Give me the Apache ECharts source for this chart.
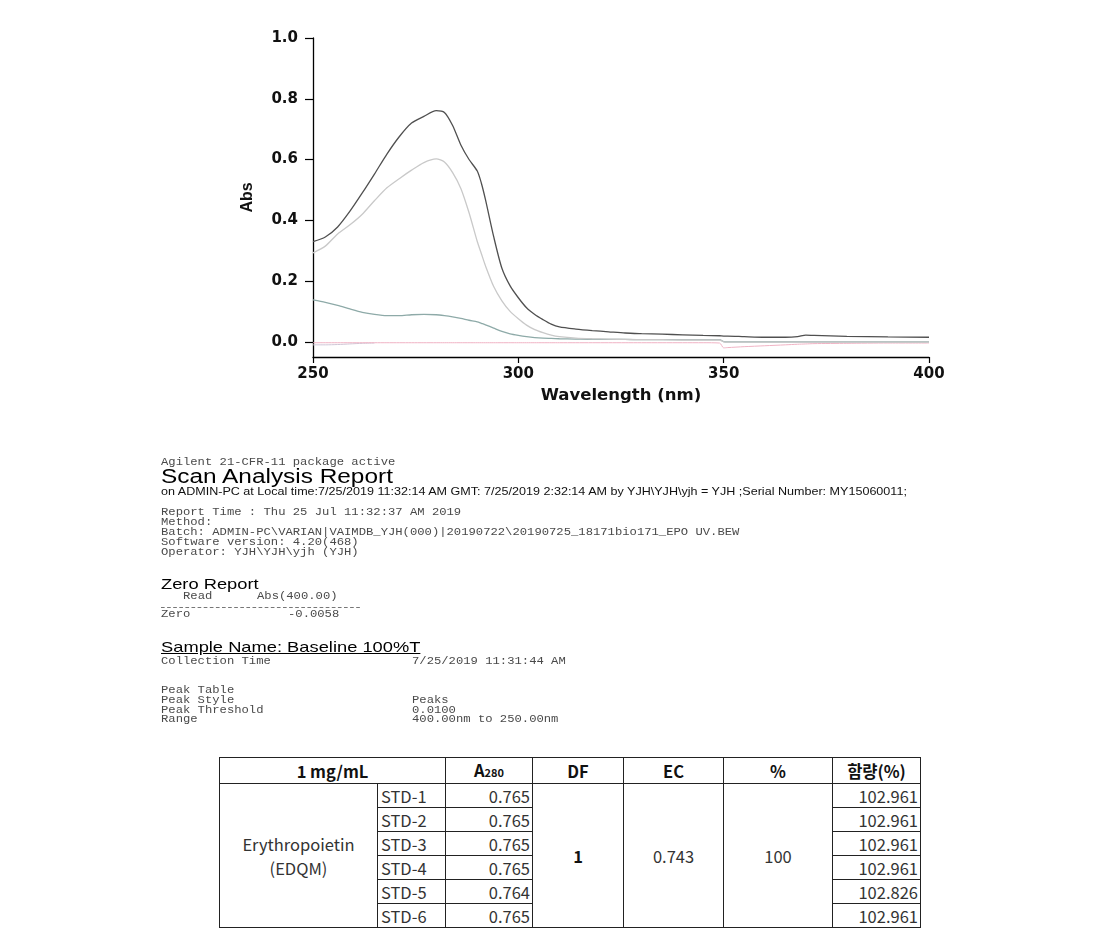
<!DOCTYPE html>
<html>
<head>
<meta charset="utf-8">
<script src="https://cdn.jsdelivr.net/npm/echarts@6/dist/echarts.min.js"></script>
<style>
html,body{margin:0;padding:0;background:#fff;width:1096px;height:931px;overflow:hidden;position:relative;}
#chart{position:absolute;left:0;top:0;width:1096px;height:420px;}
#report{position:absolute;left:161px;top:0;width:720px;height:740px;transform:scaleX(1.22);transform-origin:0 0;}
.t{position:absolute;white-space:pre;}
.mono{font-family:"Liberation Mono","DejaVu Sans Mono",monospace;font-size:10px;line-height:10px;color:#4a4a4a;}
.sans{font-family:"Liberation Sans",Arial,sans-serif;color:#111;}
#tbl{position:absolute;left:219px;top:757px;border-collapse:collapse;table-layout:fixed;
  font-family:"Noto Sans CJK KR","Noto Sans",sans-serif;font-size:16.5px;color:#333;}
#tbl td{border:1px solid #222;padding:0;height:23px;line-height:20px;overflow:hidden;white-space:nowrap;}
#tbl tr.h td{height:25px;font-weight:bold;color:#111;text-align:center;}
#tbl td.l{text-align:left;padding-left:3px;}
#tbl td.r{text-align:right;padding-right:2px;}
#tbl td.c{text-align:center;}
sub{font-size:11px;vertical-align:baseline;}
</style>
</head>
<body>
<div id="chart"></div>
<div id="report"></div>
<table id="tbl"></table>
<script>
// ---------------- chart data ----------------
const wavelength = [250,253,256,259,262,265,268,271,274,277,280,282,284,286,288,290,291,292,294,296,298,300,302,304,306,308,310,314,318,322,326,330,335,340,345,349,350,351,355,360,365,368,370,372,380,390,400];
const absSampleA = [0.330,0.345,0.378,0.430,0.490,0.553,0.618,0.675,0.720,0.742,0.761,0.755,0.712,0.648,0.600,0.562,0.522,0.468,0.346,0.242,0.184,0.145,0.112,0.090,0.073,0.058,0.049,0.042,0.037,0.033,0.029,0.027,0.025,0.023,0.021,0.020,0.019,0.019,0.017,0.015,0.015,0.017,0.022,0.021,0.018,0.016,0.015];
const absSampleB = [0.293,0.315,0.355,0.385,0.420,0.465,0.507,0.537,0.565,0.590,0.602,0.592,0.557,0.505,0.425,0.330,0.290,0.250,0.182,0.135,0.100,0.076,0.055,0.040,0.030,0.022,0.017,0.012,0.010,0.009,0.008,0.007,0.007,0.006,0.006,0.006,0.000,-0.001,-0.001,-0.001,-0.001,-0.001,-0.001,-0.001,-0.001,-0.001,-0.001];
const absSampleC = [0.138,0.130,0.120,0.108,0.097,0.090,0.086,0.086,0.089,0.090,0.089,0.086,0.082,0.077,0.071,0.066,0.061,0.056,0.045,0.034,0.026,0.021,0.017,0.014,0.012,0.011,0.010,0.009,0.008,0.008,0.008,0.007,0.007,0.007,0.007,0.007,0.001,0.000,0.000,0.000,0.000,0.000,0.000,0.000,0.000,0.000,0.000];
const absBlank = [-0.003,-0.003,-0.003,-0.003,-0.003,-0.003,-0.003,-0.003,-0.003,-0.003,-0.003,-0.003,-0.003,-0.003,-0.003,-0.003,-0.003,-0.003,-0.003,-0.003,-0.003,-0.003,-0.003,-0.003,-0.003,-0.003,-0.003,-0.003,-0.003,-0.003,-0.003,-0.003,-0.003,-0.003,-0.003,-0.004,-0.020,-0.019,-0.016,-0.013,-0.010,-0.008,-0.007,-0.006,-0.005,-0.004,-0.004];
const absBaseline = [-0.010,-0.010,-0.009,-0.007,-0.005,-0.004,null,null,null,null,null,null,null,null,null,null,null,null,null,null,null,null,null,null,null,null,null,null,null,null,null,null,null,null,null,null,null,null,null,null,null,null,null,null,null,null,null];
const yTicks = [0, 0.2, 0.4, 0.6, 0.8, 1.0];
const xTicks = [250, 300, 350, 400];

// ---------------- report text ----------------
const reportHeader = ['Agilent 21-CFR-11 package active', 'Scan Analysis Report',
  'on ADMIN-PC at Local time:7/25/2019 11:32:14 AM GMT: 7/25/2019 2:32:14 AM by YJH\\YJH\\yjh = YJH ;Serial Number: MY15060011;'];
const reportInfo = ['Report Time : Thu 25 Jul 11:32:37 AM 2019', 'Method:',
  'Batch: ADMIN-PC\\VARIAN|VAIMDB_YJH(000)|20190722\\20190725_18171bio171_EPO UV.BEW',
  'Software version: 4.20(468)', 'Operator: YJH\\YJH\\yjh (YJH)'];
const zeroTitle = 'Zero Report';
const zeroHead = ['Read', 'Abs(400.00)'];
const zeroRow = ['Zero', '-0.0058'];
const sampleTitle = 'Sample Name: Baseline 100%T';
const collection = ['Collection Time', '7/25/2019 11:31:44 AM'];
const peakLabels = ['Peak Table', 'Peak Style', 'Peak Threshold', 'Range'];
const peakValues = ['', 'Peaks', '0.0100', '400.00nm to 250.00nm'];

// ---------------- table data ----------------
const tableHeader = ['1 mg/mL', 'A', 'DF', 'EC', '%', '함량(%)'];
const a280Sub = '280';
const sampleName = ['Erythropoietin', '(EDQM)'];
const stdLabels = ['STD-1', 'STD-2', 'STD-3', 'STD-4', 'STD-5', 'STD-6'];
const a280Values = [0.765, 0.765, 0.765, 0.765, 0.764, 0.765];
const dfValue = 1;
const ecValue = 0.743;
const pctValue = 100;
const contentValues = [102.961, 102.961, 102.961, 102.961, 102.826, 102.961];

// ---------------- chart ----------------
function toPairs(arr){
  const out = [];
  wavelength.forEach((w, i) => { if (arr[i] !== null) out.push([w, arr[i]]); });
  return out;
}
const tickFont = {color:'#111', fontSize:15, fontWeight:'bold', fontFamily:'"DejaVu Sans", sans-serif'};
const chart = echarts.init(document.getElementById('chart'), null, {renderer:'canvas'});
const mk = (name, arr, color, z, w) => ({
  name, type:'line', data: toPairs(arr), showSymbol:false, smooth:0.25, z,
  lineStyle:{color, width:w}, itemStyle:{color}, silent:true
});
chart.setOption({
  animation:false,
  grid:{left:313, top:38, width:616, height:319, containLabel:false, outerBoundsMode:'none'},
  xAxis:{
    type:'value', min:250, max:400, interval:50,
    axisLine:{onZero:false, lineStyle:{color:'#000', width:1.3}},
    axisTick:{length:6, lineStyle:{color:'#000', width:1.2}, customValues:xTicks},
    axisLabel:Object.assign({margin:10, customValues:xTicks}, tickFont),
    splitLine:{show:false},
    name:'Wavelength (nm)', nameLocation:'middle', nameGap:27,
    nameTextStyle:{color:'#111', fontSize:16.5, fontWeight:'bold', fontFamily:'"DejaVu Sans", sans-serif'}
  },
  yAxis:{
    type:'value', min:-0.05, max:1.0,
    axisLine:{show:true, lineStyle:{color:'#000', width:1.3}},
    axisTick:{show:true, length:8, lineStyle:{color:'#000', width:1.2}, customValues:yTicks},
    axisLabel:Object.assign({margin:15, customValues:yTicks, formatter:v => Number(v).toFixed(1)}, tickFont),
    splitLine:{show:false},
    name:'Abs', nameLocation:'middle', nameRotate:90, nameGap:57,
    nameTextStyle:{color:'#111', fontSize:16, fontWeight:'bold', fontFamily:'"Liberation Sans", Arial, sans-serif'}
  },
  series:[
    mk('Baseline', absBaseline, '#cfc6d6', 1, 1),
    mk('Blank', absBlank, '#f0b3c4', 2, 1),
    mk('Sample C', absSampleC, '#8eaaa8', 3, 1.3),
    mk('Sample B', absSampleB, '#c9c9c9', 4, 1.3),
    mk('Sample A', absSampleA, '#505050', 5, 1.3)
  ]
});

// ---------------- report (HTML text) ----------------
const rep = document.getElementById('report');
function addText(x, y, str, cls, extra){
  const d = document.createElement('div');
  d.className = 't ' + cls;
  d.style.left = x + 'px';
  d.style.top = y + 'px';
  if (extra) Object.assign(d.style, extra);
  d.textContent = str;
  rep.appendChild(d);
  return d;
}
const S = 1.22; // horizontal stretch of the printed report
const X = px => (px - 161) / S;
addText(0, 458, reportHeader[0], 'mono');
addText(0, 466, reportHeader[1], 'sans', {fontSize:'20px', lineHeight:'20px', color:'#000'});
addText(0, 487, reportHeader[2], 'sans', {fontSize:'10.3px', lineHeight:'10px', color:'#111'});
reportInfo.forEach((s, i) => addText(0, 508 + i * 10, s, 'mono'));
addText(0, 576, zeroTitle, 'sans', {fontSize:'15px', lineHeight:'15px', color:'#000'});
addText(X(183), 592, zeroHead[0], 'mono');
addText(X(257), 592, zeroHead[1], 'mono');
const dash = document.createElement('div');
dash.style.cssText = 'position:absolute;left:0;top:607px;width:' + X(360) + 'px;border-top:1px dashed #777;';
rep.appendChild(dash);
addText(0, 610, zeroRow[0], 'mono');
addText(X(288), 610, zeroRow[1], 'mono');
addText(0, 639, sampleTitle, 'sans', {fontSize:'15px', lineHeight:'16px', color:'#000', textDecoration:'underline'});
addText(0, 657, collection[0], 'mono');
addText(X(412), 657, collection[1], 'mono');
peakLabels.forEach((s, i) => {
  addText(0, 686 + i * 9.8, s, 'mono');
  if (peakValues[i]) addText(X(412), 686 + i * 9.8, peakValues[i], 'mono');
});

// ---------------- table ----------------
const colW = [158, 68, 87, 91, 100, 109, 88];
const tbl = document.getElementById('tbl');
const cg = document.createElement('colgroup');
colW.forEach(w => { const c = document.createElement('col'); c.style.width = w + 'px'; cg.appendChild(c); });
tbl.appendChild(cg);
let html = '<tr class="h"><td colspan="2">' + tableHeader[0] + '</td><td>' + tableHeader[1] + '<sub>' + a280Sub + '</sub></td>' +
  '<td>' + tableHeader[2] + '</td><td>' + tableHeader[3] + '</td><td>' + tableHeader[4] + '</td><td>' + tableHeader[5] + '</td></tr>';
stdLabels.forEach((lab, i) => {
  html += '<tr>';
  if (i === 0) html += '<td rowspan="6" class="c" style="line-height:24px">' + sampleName.join('<br>') + '</td>';
  html += '<td class="l">' + lab + '</td><td class="r">' + a280Values[i].toFixed(3) + '</td>';
  if (i === 0) {
    html += '<td rowspan="6" class="c" style="font-weight:bold;color:#111">' + dfValue + '</td>';
    html += '<td rowspan="6" class="c">' + ecValue.toFixed(3) + '</td>';
    html += '<td rowspan="6" class="c">' + pctValue + '</td>';
  }
  html += '<td class="r">' + contentValues[i].toFixed(3) + '</td></tr>';
});
tbl.insertAdjacentHTML('beforeend', html);
</script>
</body>
</html>
